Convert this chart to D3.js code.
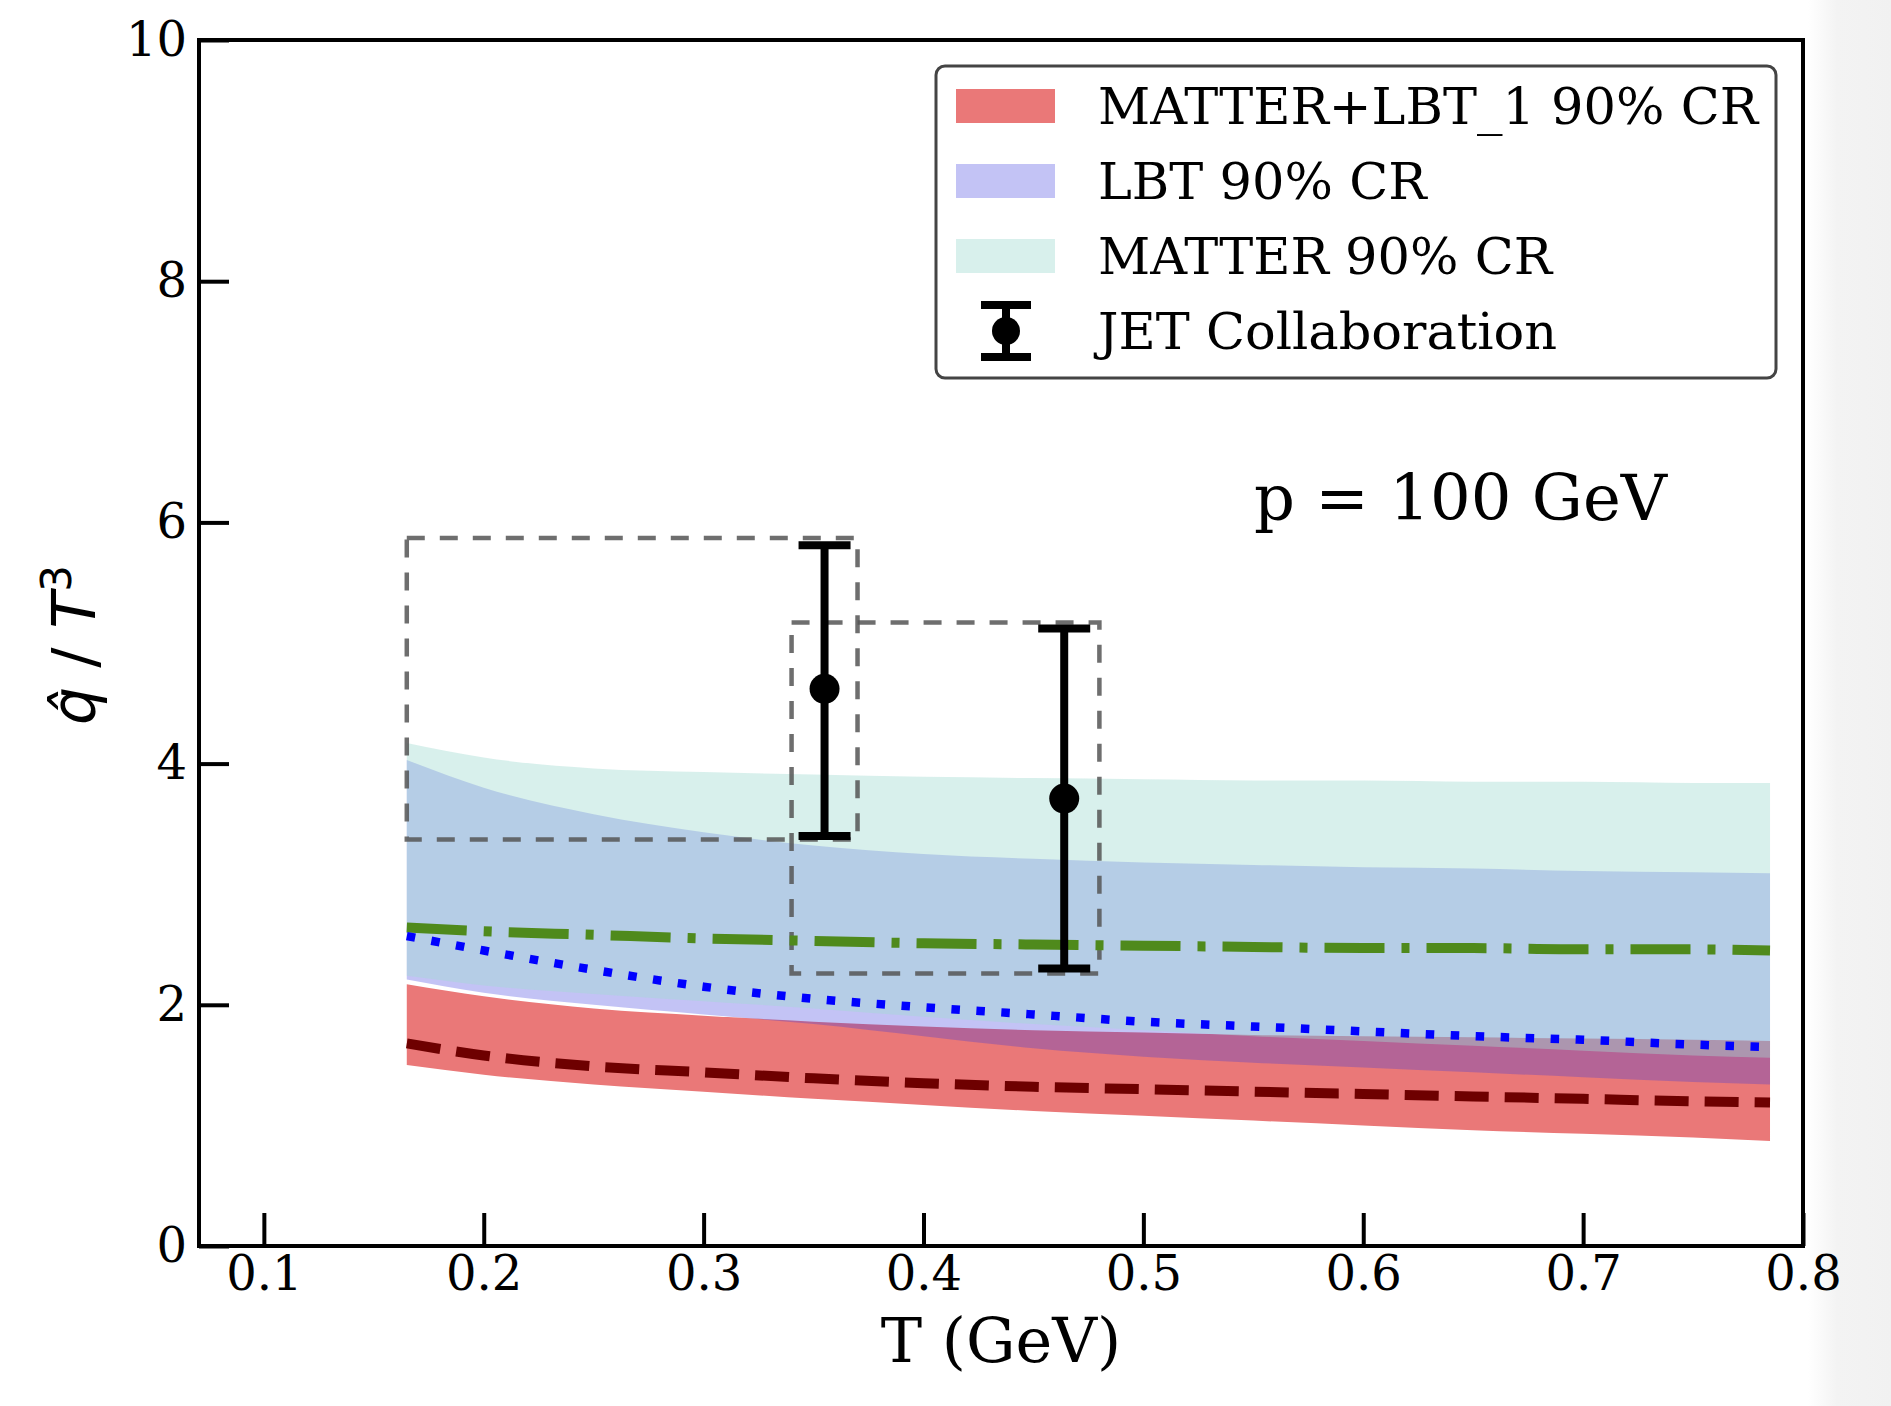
<!DOCTYPE html>
<html><head><meta charset="utf-8">
<script src="https://cdn.jsdelivr.net/npm/d3@7"></script>
<style>html,body{margin:0;padding:0;background:#fff;}svg{display:block;}</style>
</head><body>
<svg id="chart" width="1891" height="1406"></svg>
<script>
// ---- data ----
const T = [0.165, 0.2, 0.25, 0.3, 0.35, 0.4, 0.45, 0.5, 0.55, 0.6, 0.65, 0.7, 0.75, 0.785];
const matterUpper = [4.17, 4.05, 3.96, 3.93, 3.91, 3.89, 3.88, 3.87, 3.86, 3.86, 3.85, 3.85, 3.84, 3.84];
const matterLower = [2.24, 2.16, 2.09, 2.03, 1.97, 1.90, 1.84, 1.79, 1.74, 1.70, 1.66, 1.62, 1.58, 1.56];
const lbtUpper = [4.03, 3.80, 3.58, 3.43, 3.32, 3.25, 3.21, 3.18, 3.16, 3.14, 3.13, 3.11, 3.10, 3.09];
const lbtLower = [2.21, 2.10, 2.00, 1.92, 1.84, 1.74, 1.64, 1.57, 1.52, 1.48, 1.44, 1.40, 1.36, 1.34];
const comboUpper = [2.17, 2.07, 1.97, 1.91, 1.86, 1.82, 1.79, 1.77, 1.75, 1.74, 1.73, 1.72, 1.71, 1.70];
const comboLower = [1.50, 1.42, 1.34, 1.28, 1.22, 1.17, 1.12, 1.08, 1.04, 1.00, 0.96, 0.93, 0.90, 0.87];
const comboMedian = [1.68, 1.58, 1.49, 1.44, 1.39, 1.35, 1.32, 1.30, 1.28, 1.26, 1.24, 1.22, 1.20, 1.19];
const lbtMedian = [2.57, 2.45, 2.29, 2.15, 2.05, 1.98, 1.92, 1.86, 1.82, 1.78, 1.74, 1.71, 1.67, 1.65];
const matterMedian = [2.64, 2.61, 2.58, 2.55, 2.53, 2.51, 2.50, 2.49, 2.48, 2.47, 2.47, 2.46, 2.46, 2.45];

const jetT = [0.355, 0.464];
const jetQ = [4.62, 3.71];
const jetLo = [3.40, 2.30];
const jetHi = [5.81, 5.12];

const boxTmin = [0.165, 0.34];
const boxTmax = [0.37, 0.48];
const boxQmin = [3.37, 2.26];
const boxQmax = [5.87, 5.17];

const xTicks = [0.1, 0.2, 0.3, 0.4, 0.5, 0.6, 0.7, 0.8];
const yTicks = [0, 2, 4, 6, 8, 10];
const legendLabels = ["MATTER+LBT_1 90% CR", "LBT 90% CR", "MATTER 90% CR", "JET Collaboration"];

// ---- layout ----
const svg = d3.select("#chart");
const L = 199, R = 1803, TOP = 40, B = 1246;
const x = d3.scaleLinear().domain([0.0705, 0.8]).range([L, R]);
const y = d3.scaleLinear().domain([0, 10]).range([B, TOP]);
const serif = "'DejaVu Serif', serif";

// right grey strip of the original screenshot
const defs = svg.append("defs");
const g1 = defs.append("linearGradient").attr("id", "edge").attr("x1", "0").attr("x2", "1");
g1.append("stop").attr("offset", "0").attr("stop-color", "#ffffff");
g1.append("stop").attr("offset", "0.35").attr("stop-color", "#f3f3f3");
g1.append("stop").attr("offset", "1").attr("stop-color", "#f1f1f1");
svg.append("rect").attr("x", 1808).attr("y", 0).attr("width", 83).attr("height", 1406).attr("fill", "url(#edge)");

const idx = d3.range(T.length);
const area = (lo, hi) => d3.area().curve(d3.curveMonotoneX)
  .x(i => x(T[i])).y0(i => y(lo[i])).y1(i => y(hi[i]))(idx);
const line = (v) => d3.line().curve(d3.curveMonotoneX).x(i => x(T[i])).y(i => y(v[i]))(idx);

const styles = {
  combo: {fill: "#ea7878", op: 1},
  lbt: {fill: "#3737de", op: 0.3},
  matter: {fill: "#a2dbd2", op: 0.42}
};

const plot = svg.append("g");
plot.append("path").attr("d", area(comboLower, comboUpper)).attr("fill", styles.combo.fill).attr("fill-opacity", styles.combo.op);
plot.append("path").attr("d", area(lbtLower, lbtUpper)).attr("fill", styles.lbt.fill).attr("fill-opacity", styles.lbt.op);
plot.append("path").attr("d", area(matterLower, matterUpper)).attr("fill", styles.matter.fill).attr("fill-opacity", styles.matter.op);

// dashed boxes
boxTmin.forEach((t0, i) => {
  plot.append("rect")
    .attr("x", x(t0)).attr("y", y(boxQmax[i]))
    .attr("width", x(boxTmax[i]) - x(t0)).attr("height", y(boxQmin[i]) - y(boxQmax[i]))
    .attr("fill", "none").attr("stroke", "#555").attr("stroke-opacity", 0.85)
    .attr("stroke-width", 4.5).attr("stroke-dasharray", "18,15");
});

// median lines
plot.append("path").attr("d", line(matterMedian)).attr("fill", "none")
  .attr("stroke", "#4f8a1c").attr("stroke-width", 10).attr("stroke-dasharray", "60,17,8,17");
plot.append("path").attr("d", line(lbtMedian)).attr("fill", "none")
  .attr("stroke", "#0000ff").attr("stroke-width", 8.5).attr("stroke-dasharray", "8.5,16.5");
plot.append("path").attr("d", line(comboMedian)).attr("fill", "none")
  .attr("stroke", "#6e0000").attr("stroke-width", 10).attr("stroke-dasharray", "34,16");

// error bars
jetT.forEach((t, i) => {
  const cx = x(t);
  plot.append("line").attr("x1", cx).attr("x2", cx).attr("y1", y(jetLo[i])).attr("y2", y(jetHi[i]))
    .attr("stroke", "#000").attr("stroke-width", 8);
  [jetLo[i], jetHi[i]].forEach(v => {
    plot.append("line").attr("x1", cx - 26).attr("x2", cx + 26).attr("y1", y(v)).attr("y2", y(v))
      .attr("stroke", "#000").attr("stroke-width", 8);
  });
  plot.append("circle").attr("cx", cx).attr("cy", y(jetQ[i])).attr("r", 15).attr("fill", "#000");
});

// axes
const xAxis = d3.axisBottom(x).tickValues(xTicks).tickSize(-33).tickPadding(10).tickFormat(d3.format(".1f"));
const gx = svg.append("g").attr("transform", `translate(0,${B})`).call(xAxis);
const yAxis = d3.axisLeft(y).tickValues(yTicks).tickSize(-30).tickPadding(12).tickFormat(d3.format("d"));
const gy = svg.append("g").attr("transform", `translate(${L},0)`).call(yAxis);
[gx, gy].forEach(g => {
  g.select(".domain").remove();
  g.selectAll(".tick line").attr("stroke", "#000").attr("stroke-width", 4);
  g.selectAll(".tick text").attr("font-family", serif).attr("font-size", 48).attr("fill", "#000");
});

// frame
svg.append("rect").attr("x", L).attr("y", TOP).attr("width", R - L).attr("height", B - TOP)
  .attr("fill", "none").attr("stroke", "#000").attr("stroke-width", 4);

// legend
const lg = svg.append("g");
lg.append("rect").attr("x", 936).attr("y", 66).attr("width", 840).attr("height", 312).attr("rx", 9)
  .attr("fill", "#fff").attr("stroke", "#444").attr("stroke-width", 3);
const rowY = [106, 181, 256, 331];
const patchStyles = [styles.combo, styles.lbt, styles.matter];
patchStyles.forEach((s, i) => {
  lg.append("rect").attr("x", 956).attr("y", rowY[i] - 17).attr("width", 99).attr("height", 34)
    .attr("fill", s.fill).attr("fill-opacity", s.op);
});
// errorbar symbol
const ex = 1006, ey = rowY[3];
lg.append("line").attr("x1", ex).attr("x2", ex).attr("y1", ey - 26).attr("y2", ey + 26).attr("stroke", "#000").attr("stroke-width", 8);
[ey - 26, ey + 26].forEach(yy => lg.append("line").attr("x1", ex - 25).attr("x2", ex + 25).attr("y1", yy).attr("y2", yy).attr("stroke", "#000").attr("stroke-width", 8));
lg.append("circle").attr("cx", ex).attr("cy", ey).attr("r", 14).attr("fill", "#000");
legendLabels.forEach((t, i) => {
  lg.append("text").attr("x", 1098).attr("y", rowY[i] + 18).attr("font-family", serif).attr("font-size", 51)
    .attr("fill", "#000").text(t);
});

// annotation
svg.append("text").attr("x", 1254).attr("y", 520).attr("font-family", serif).attr("font-size", 64)
  .attr("fill", "#000").text("p = 100 GeV");

// axis labels
svg.append("text").attr("x", (L + R) / 2).attr("y", 1362).attr("text-anchor", "middle")
  .attr("font-family", serif).attr("font-size", 62).attr("fill", "#000").text("T (GeV)");

const yl = svg.append("text").attr("transform", "translate(95,645) rotate(-90)").attr("text-anchor", "middle")
  .attr("font-family", "'DejaVu Sans', sans-serif").attr("font-size", 60).attr("fill", "#000");
yl.append("tspan").attr("font-style", "italic").text("q\u0302");
yl.append("tspan").text(" / ");
yl.append("tspan").attr("font-style", "italic").text("T");
yl.append("tspan").attr("font-size", 42).attr("dy", -24).text("3");
</script>
</body></html>
